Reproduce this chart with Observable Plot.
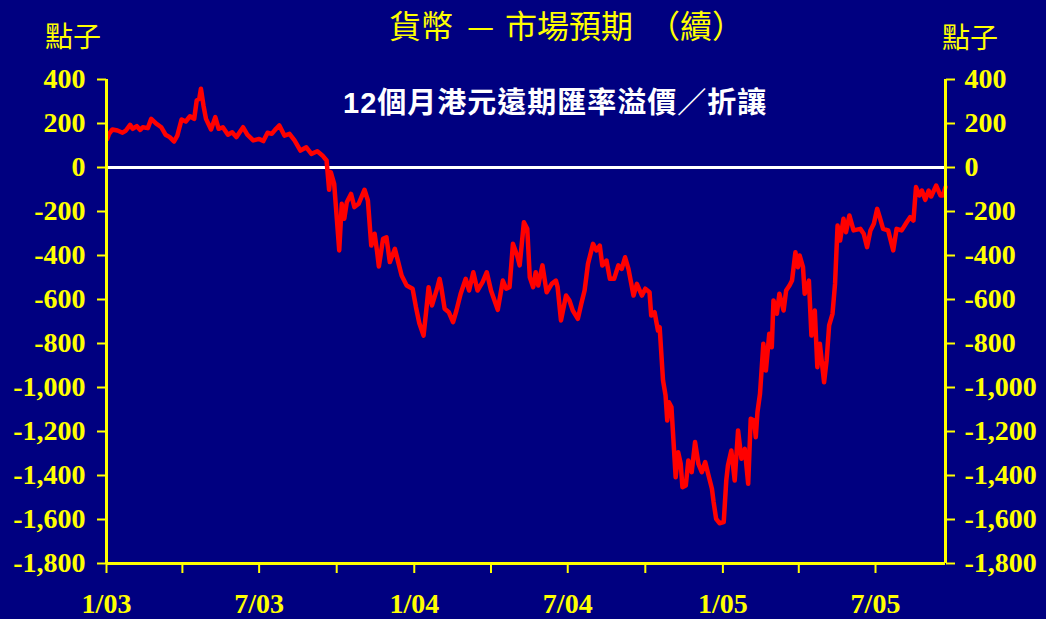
<!DOCTYPE html>
<html><head><meta charset="utf-8">
<script src="https://cdn.jsdelivr.net/npm/d3@7"></script>
<script src="https://cdn.jsdelivr.net/npm/@observablehq/plot@0.6"></script>
<style>
html,body{margin:0;padding:0;background:#000080;}
#wrap{position:relative;width:1046px;height:619px;overflow:hidden;background:#000080;}
#chart{position:absolute;left:0;top:0;}
.t{position:absolute;color:#ffff00;font-family:"Noto Sans CJK TC","Noto Sans CJK SC",sans-serif;white-space:nowrap;line-height:1;}
.sub{position:absolute;color:#ffffff;font-family:"Liberation Sans","Noto Sans CJK TC",sans-serif;font-weight:bold;white-space:nowrap;line-height:1;}
</style></head><body>
<div id="wrap">
  <div id="chart"></div>
  <div class="t" style="left:389px;top:8px;font-size:32px">貨幣</div>
  <div class="t" style="left:466px;top:8px;font-size:32px;transform:scaleX(1.7);transform-origin:left center">–</div>
  <div class="t" style="left:505px;top:8px;font-size:32px">市場預期</div>
  <div class="t" style="left:648px;top:8px;font-size:32px">（續）</div>
  <div class="t" style="left:45px;top:21px;font-size:28px">點子</div>
  <div class="t" style="left:942px;top:22px;font-size:28px">點子</div>
  <div class="sub" style="left:343px;top:89px;font-size:29px;letter-spacing:1px">12個月港元遠期匯率溢價／折讓</div>
</div>
<script>
const dates = [
"2003-01-02","2003-01-04","2003-01-08","2003-01-14","2003-01-20","2003-01-24","2003-01-29","2003-02-01","2003-02-06","2003-02-10",
"2003-02-13","2003-02-19","2003-02-23","2003-03-01","2003-03-07","2003-03-12","2003-03-17","2003-03-22","2003-03-26","2003-03-31",
"2003-04-05","2003-04-10","2003-04-15","2003-04-18","2003-04-21","2003-04-23","2003-04-26","2003-04-29","2003-05-05","2003-05-10",
"2003-05-14","2003-05-19","2003-05-25","2003-05-30","2003-06-04","2003-06-12","2003-06-17","2003-06-24","2003-07-01","2003-07-06",
"2003-07-11","2003-07-16","2003-07-21","2003-07-25","2003-07-31","2003-08-06","2003-08-12","2003-08-19","2003-08-26","2003-09-01",
"2003-09-08","2003-09-14","2003-09-19","2003-09-22","2003-09-24","2003-09-28","2003-10-04","2003-10-07","2003-10-10","2003-10-13",
"2003-10-18","2003-10-22","2003-10-27","2003-11-03","2003-11-07","2003-11-11","2003-11-15","2003-11-18","2003-11-20","2003-11-25",
"2003-11-29","2003-12-03","2003-12-09","2003-12-13","2003-12-17","2003-12-23","2003-12-30","2004-01-03","2004-01-07","2004-01-12",
"2004-01-15","2004-01-18","2004-01-22","2004-01-28","2004-01-31","2004-02-02","2004-02-06","2004-02-11","2004-02-16","2004-02-20",
"2004-02-25","2004-03-02","2004-03-06","2004-03-11","2004-03-16","2004-03-22","2004-03-27","2004-04-01","2004-04-09","2004-04-15",
"2004-04-19","2004-04-23","2004-04-27","2004-05-02","2004-05-05","2004-05-10","2004-05-14","2004-05-17","2004-05-21","2004-05-24",
"2004-05-27","2004-06-01","2004-06-06","2004-06-12","2004-06-17","2004-06-19","2004-06-23","2004-06-29","2004-07-03","2004-07-07",
"2004-07-13","2004-07-17","2004-07-21","2004-07-25","2004-07-31","2004-08-04","2004-08-08","2004-08-11","2004-08-16","2004-08-20",
"2004-08-25","2004-08-30","2004-09-03","2004-09-07","2004-09-11","2004-09-17","2004-09-21","2004-09-27","2004-10-01","2004-10-06",
"2004-10-08","2004-10-12","2004-10-16","2004-10-18","2004-10-22","2004-10-25","2004-10-27","2004-10-29","2004-11-01","2004-11-06",
"2004-11-09","2004-11-12","2004-11-14","2004-11-18","2004-11-21","2004-11-25","2004-11-29","2004-12-03","2004-12-07","2004-12-11",
"2004-12-15","2004-12-19","2004-12-21","2004-12-24","2004-12-28","2005-01-02","2005-01-05","2005-01-07","2005-01-11","2005-01-15",
"2005-01-19","2005-01-23","2005-01-27","2005-01-31","2005-02-03","2005-02-07","2005-02-09","2005-02-11","2005-02-14","2005-02-18",
"2005-02-21","2005-02-25","2005-02-28","2005-03-02","2005-03-06","2005-03-09","2005-03-14","2005-03-17","2005-03-21","2005-03-24",
"2005-03-28","2005-03-31","2005-04-02","2005-04-06","2005-04-08","2005-04-13","2005-04-16","2005-04-20","2005-04-23","2005-04-26",
"2005-05-01","2005-05-04","2005-05-07","2005-05-11","2005-05-14","2005-05-17","2005-05-20","2005-05-24","2005-05-27","2005-05-31",
"2005-06-05","2005-06-13","2005-06-17","2005-06-21","2005-06-25","2005-06-29","2005-07-03","2005-07-06","2005-07-10","2005-07-16",
"2005-07-22","2005-07-26","2005-08-01","2005-08-07","2005-08-11","2005-08-15","2005-08-18","2005-08-22","2005-08-25","2005-08-29",
"2005-09-02","2005-09-05","2005-09-11","2005-09-16","2005-09-19","2005-09-22"
];
const values = [
130,153,173,168,158,168,194,176,188,171,
183,179,221,199,183,149,138,118,145,218,
209,233,221,305,312,358,282,221,173,229,
176,183,149,160,138,183,149,123,130,120,
158,153,176,191,145,153,123,77,92,62,
74,55,32,-101,-21,-74,-377,-165,-233,-158,
-120,-180,-165,-101,-150,-355,-301,-385,-450,-324,
-317,-430,-370,-430,-491,-536,-551,-635,-708,-764,
-658,-544,-627,-551,-506,-544,-642,-658,-703,-650,
-574,-506,-559,-476,-559,-521,-476,-559,-647,-514,
-551,-544,-347,-400,-445,-249,-279,-499,-544,-476,
-536,-445,-567,-529,-514,-544,-695,-582,-605,-650,
-688,-620,-559,-438,-347,-377,-355,-445,-423,-506,
-506,-445,-461,-408,-461,-582,-529,-582,-551,-567,
-673,-658,-741,-726,-968,-1036,-1150,-1067,-1089,-1408,
-1294,-1347,-1453,-1445,-1332,-1385,-1248,-1347,-1385,-1339,
-1400,-1460,-1521,-1597,-1617,-1612,-1423,-1354,-1286,-1423,
-1195,-1324,-1279,-1438,-1142,-1150,-1226,-1112,-1029,-801,
-923,-756,-817,-604,-665,-574,-650,-559,-536,-514,
-385,-453,-400,-453,-574,-514,-764,-650,-908,-801,
-976,-877,-718,-665,-529,-264,-332,-233,-294,-218,
-286,-279,-301,-362,-286,-256,-188,-226,-279,-286,
-377,-279,-286,-249,-226,-241,-89,-127,-105,-147,
-105,-132,-82,-127,-127,-89
];
const yTicks = [400,200,0,-200,-400,-600,-800,-1000,-1200,-1400,-1600,-1800];
const xStart = "2003-01-01", xEnd = "2005-09-22";
const xTickDates = ["2003-01-01","2003-04-01","2003-07-01","2003-10-01","2004-01-01","2004-04-01","2004-07-01","2004-10-01","2005-01-01","2005-04-01","2005-07-01"];
const xTickLabels = ["1/03","","7/03","","1/04","","7/04","","1/05","","7/05"];

const parse = d3.utcParse("%Y-%m-%d");
const data = dates.map((d, i) => ({date: parse(d), value: values[i]}));
const xTicks = xTickDates.map(parse);
const labelOf = new Map(xTicks.map((d, i) => [+d, xTickLabels[i]]));
const Y = "#ffff00";
const fmt = d => d.toLocaleString("en-US");
const font = {fontSize: 28, fontWeight: "bold", fontFamily: "Liberation Serif, Times New Roman, serif"};

const plot = Plot.plot({
  width: 1046, height: 619,
  marginLeft: 106, marginRight: 101, marginTop: 79, marginBottom: 56,
  style: {background: "#000080", overflow: "visible"},
  x: {type: "utc", domain: [parse(xStart), parse(xEnd)]},
  y: {domain: [-1800, 400]},
  marks: [
    Plot.ruleY([0], {stroke: "#ffffff", strokeWidth: 3}),
    Plot.line(data, {x: "date", y: "value", stroke: "#ff0000", strokeWidth: 4.5, strokeLinejoin: "round"}),
    Plot.ruleX([parse(xStart)], {stroke: Y, strokeWidth: 3}),
    Plot.ruleX([parse(xEnd)], {stroke: Y, strokeWidth: 3}),
    Plot.ruleY([-1800], {stroke: Y, strokeWidth: 3}),
    Plot.axisY({anchor: "left", label: null, ticks: yTicks, tickFormat: fmt, tickSize: 9, tickPadding: 12, color: Y, strokeWidth: 2, ...font}),
    Plot.axisY({anchor: "right", label: null, ticks: yTicks, tickFormat: fmt, tickSize: 9, tickPadding: 10, color: Y, strokeWidth: 2, ...font}),
    Plot.axisX({anchor: "bottom", label: null, ticks: xTicks, tickFormat: d => labelOf.get(+d), tickSize: 10, tickPadding: 20, color: Y, strokeWidth: 2, ...font})
  ]
});
document.getElementById("chart").appendChild(plot);
</script>
</body></html>
